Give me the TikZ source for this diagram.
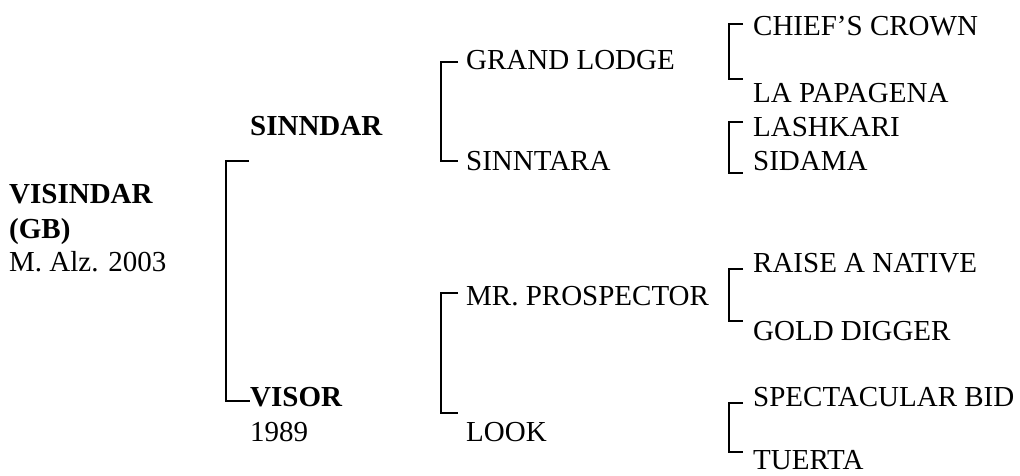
\documentclass[tikz,border=0pt]{standalone}
\usepackage{fontspec}
\setmainfont{Liberation Serif}
\tikzset{
  horse/.style={anchor=base west,inner sep=0pt,font=\fontsize{29}{34}\selectfont},
  sirename/.style={horse,font=\fontsize{29}{34}\selectfont\bfseries},
  bracket/.style={black,line width=2pt}
}
\begin{document}
\begin{tikzpicture}[x=1pt,y=-1pt]
  \useasboundingbox (0,0) rectangle (1020,475);

  % foal
  \node[sirename] (visindar) at (9,203) {VISINDAR};
  \node[sirename] (gb) at (9,238) {(GB)};
  \node[horse] (foaled) at (9,271) {M. Alz. 2003};

  % parents
  \node[sirename] (sinndar) at (250,135) {SINNDAR};
  \node[sirename] (visor) at (250,406) {VISOR};
  \node[horse] (visoryear) at (250,441) {1989};

  % grandparents
  \node[horse] (grandlodge) at (466,69) {GRAND LODGE};
  \node[horse] (sinntara) at (466,170) {SINNTARA};
  \node[horse] (prospector) at (466,305) {MR. PROSPECTOR};
  \node[horse] (look) at (466,441) {LOOK};

  % great-grandparents
  \node[horse] (chiefscrown) at (753,35) {CHIEF’S CROWN};
  \node[horse] (papagena) at (753,102) {LA PAPAGENA};
  \node[horse] (lashkari) at (753,136) {LASHKARI};
  \node[horse] (sidama) at (753,170) {SIDAMA};
  \node[horse] (raisenative) at (753,272) {RAISE A NATIVE};
  \node[horse] (golddigger) at (753,340) {GOLD DIGGER};
  \node[horse] (spectacular) at (753,406) {SPECTACULAR BID};
  \node[horse] (tuerta) at (753,469) {TUERTA};

  % brackets
  \coordinate (p1) at (249,161);
  \coordinate (p2) at (250,401);
  \coordinate (g1) at (458,62);
  \coordinate (g2) at (458,161);
  \coordinate (g3) at (458,293);
  \coordinate (g4) at (458,413);
  \coordinate (a1) at (743,24);
  \coordinate (a2) at (743,79);
  \coordinate (a3) at (743,122);
  \coordinate (a4) at (743,173);
  \coordinate (a5) at (743,269);
  \coordinate (a6) at (743,321);
  \coordinate (a7) at (743,403);
  \coordinate (a8) at (743,452);

  \draw[bracket] (p1) -- ++(-23,0) |- (p2);
  \draw[bracket] (g1) -- ++(-17,0) |- (g2);
  \draw[bracket] (g3) -- ++(-17,0) |- (g4);
  \draw[bracket] (a1) -- ++(-14,0) |- (a2);
  \draw[bracket] (a3) -- ++(-14,0) |- (a4);
  \draw[bracket] (a5) -- ++(-14,0) |- (a6);
  \draw[bracket] (a7) -- ++(-14,0) |- (a8);
\end{tikzpicture}
\end{document}
